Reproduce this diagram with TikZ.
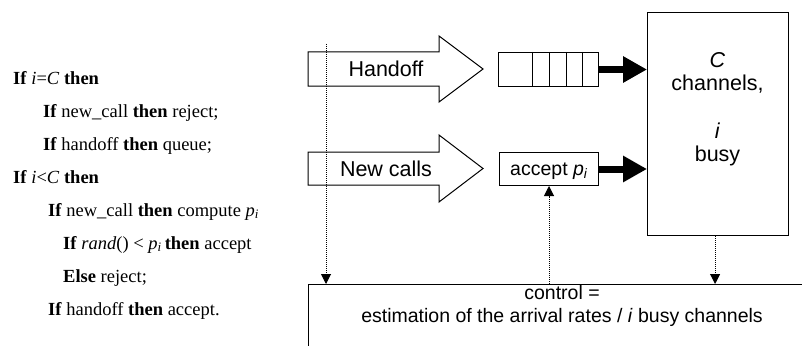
\documentclass[tikz,border=0pt]{standalone}
\usepackage{fontspec}
\setmainfont{Liberation Serif}
\newfontfamily\arialf{Liberation Sans}
\usetikzlibrary{arrows.meta}
\begin{document}
\begin{tikzpicture}[x=1pt,y=-1pt,
  box/.style={draw, line width=1pt, inner sep=0pt, fill=white},
  blockarrow/.style={draw, line width=1pt, fill=white, line join=miter},
  lbl/.style={font=\arialf\fontsize{21.5}{24}\selectfont, inner sep=0pt, anchor=base},
  small/.style={font=\arialf\fontsize{19.5}{22}\selectfont, inner sep=0pt, anchor=base},
  code/.style={anchor=base west, inner sep=0pt, font=\fontsize{18.5}{22}\selectfont},
  fatarrow/.style={line width=7pt, -{Triangle[length=24pt,width=25pt]}},
  dotarrow/.style={densely dotted, line width=1pt, -{Triangle[length=10pt,width=10pt]}}
]
\useasboundingbox (0,0) rectangle (802,345);

% pseudo-code
\node[code] (c1) at (13,84)  {\textbf{If} \textit{i}=\textit{C} \textbf{then}};
\node[code] (c2) at (43,117) {\textbf{If} new\_call \textbf{then} reject;};
\node[code] (c3) at (43,150) {\textbf{If} handoff \textbf{then} queue;};
\node[code] (c4) at (13,183) {\textbf{If} \textit{i}<\textit{C} \textbf{then}};
\node[code] (c5) at (48,216) {\textbf{If} new\_call \textbf{then} compute \textit{p}\textsubscript{\textit{i}}};
\node[code] (c6) at (63,249) {\textbf{If} \textit{rand}() < \textit{p}\textsubscript{\textit{i}}\,\textbf{then} accept};
\node[code] (c7) at (63,282) {\textbf{Else} reject;};
\node[code] (c8) at (48,315) {\textbf{If} handoff \textbf{then} accept.};

% block arrows
\draw[blockarrow] (308,52) -- (439,52) -- (439,36) -- (483,69) -- (439,102) -- (439,86) -- (308,86) -- cycle;
\node[lbl] (handoff) at (386,76.5) {Handoff};
\draw[blockarrow] (308,152) -- (439,152) -- (439,135) -- (483,168.5) -- (439,202) -- (439,185) -- (308,185) -- cycle;
\node[lbl] (newcalls) at (386,176) {New calls};

% queue
\node[box, minimum width=100pt, minimum height=34pt, anchor=north west] (queue) at (498,52) {};
\foreach \dx in {34,51,68,84}
  \draw[line width=1pt] ([xshift=\dx pt]queue.north west) -- ([xshift=\dx pt]queue.south west);

% accept box
\node[box, minimum width=99pt, minimum height=33pt, anchor=north west] (accept) at (499,152) {};
\node[small] (accepttxt) at (549,175.5) {accept \textit{p}\textsubscript{\textit{i}}};

% channels box
\node[box, line width=1.2pt, minimum width=141pt, minimum height=223pt, anchor=north west] (chan) at (647,12) {};
\node[lbl] (tC) at (717.5,67) {\textit{C}};
\node[lbl] (tch) at (717.5,90.5) {channels,};
\node[lbl] (ti) at (717.5,138) {\textit{i}};
\node[lbl] (tb) at (717.5,161) {busy};

% control box (extends beyond the page)
\node[box, minimum width=540pt, minimum height=90pt, anchor=north west] (ctrl) at (308,284) {};
\node[small] (ctrl1) at (562,299) {control =};
\node[small] (ctrl2) at (562,322) {estimation of the arrival rates / \textit{i} busy channels};

% thick arrows
\draw[fatarrow] (queue.east) -- (queue.east -| chan.west);
\draw[fatarrow] (accept.east) -- (accept.east -| chan.west);

% dotted arrows
\coordinate (ltop) at (326,44);
\draw[dotarrow] (ltop) -- (ltop |- ctrl.north);
\draw[dotarrow] (accept.south |- ctrl.north) -- (accept.south);
\draw[dotarrow] ([xshift=-3pt]chan.south) -- ([xshift=-3pt]chan.south |- ctrl.north);
\end{tikzpicture}
\end{document}
